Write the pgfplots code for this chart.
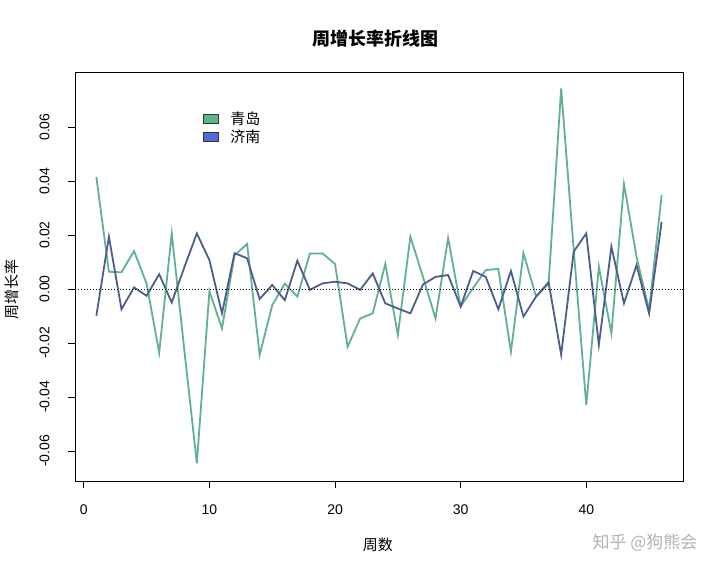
\documentclass[border=0pt]{standalone}
\usepackage{fontspec}
\setmainfont{Liberation Sans}
\newfontfamily\cjk{Noto Sans CJK SC}
\usepackage{pgfplots}
\pgfplotsset{compat=1.18}
\usepackage{pgfplotstable}
\definecolor{qdline}{RGB}{96,176,148}
\definecolor{jnline}{RGB}{78,94,140}
\definecolor{qdfill}{RGB}{92,185,135}
\definecolor{jnfill}{RGB}{86,106,215}
\pgfplotstableread{
w qd jn
1 0.0415 -0.0099
2 0.0064 0.0194
3 0.0062 -0.0075
4 0.0141 0.0006
5 0.0020 -0.0025
6 -0.0236 0.0055
7 0.0206 -0.0050
8 -0.0225 0.0080
9 -0.0645 0.0206
10 -0.0008 0.0107
11 -0.0146 -0.0090
12 0.0125 0.0133
13 0.0167 0.0114
14 -0.0244 -0.0037
15 -0.0060 0.0015
16 0.0020 -0.0041
17 -0.0028 0.0105
18 0.0132 -0.0003
19 0.0132 0.0021
20 0.0093 0.0027
21 -0.0214 0.0021
22 -0.0109 -0.0003
23 -0.0090 0.0058
24 0.0093 -0.0053
25 -0.0170 -0.0072
26 0.0194 -0.0090
27 0.0045 0.0017
28 -0.0109 0.0045
29 0.0189 0.0052
30 -0.0065 -0.0065
31 0.0005 0.0067
32 0.0070 0.0045
33 0.0075 -0.0075
34 -0.0232 0.0067
35 0.0133 -0.0102
36 -0.0028 -0.0028
37 0.0020 0.0025
38 0.0743 -0.0243
39 0.0145 0.0139
40 -0.0430 0.0206
41 0.0083 -0.0207
42 -0.0164 0.0157
43 0.0389 -0.0053
44 0.0120 0.0089
45 -0.0078 -0.0091
46 0.0348 0.0249
}\datatable
\begin{document}
\begin{tikzpicture}[x=1bp,y=1bp]
\path[use as bounding box] (0,0) rectangle (720,573);
\begin{axis}[
  at={(75bp,92bp)}, anchor=south west,
  scale only axis, width=608bp, height=409bp,
  xmin=-0.7, xmax=47.7, ymin=-0.0711, ymax=0.0804,
  xtick={0,10,20,30,40},
  ytick={-0.06,-0.04,-0.02,0,0.02,0.04,0.06},
  tick pos=left, tick align=outside,
  major tick length=7bp,
  every tick/.style={black, line width=0.8bp},
  axis line style={line width=0.8bp},
  /pgf/number format/assume math mode=true,
  xticklabel style={yshift=-13bp},
  yticklabel style={/pgf/number format/fixed, /pgf/number format/fixed zerofill, /pgf/number format/precision=2, xshift=-15bp, rotate=90, anchor=south},
  scaled y ticks=false,
  tick label style={font=\fontsize{14bp}{16bp}\selectfont},
  title={\cjk\bfseries 周增长率折线图},
  title style={at={(axis description cs:0.495,1.068)}, anchor=center, font=\fontsize{18bp}{20bp}\selectfont},
  xlabel={\cjk 周数},
  xlabel style={at={(axis description cs:0.498,-0.156)}, anchor=center, font=\fontsize{15bp}{17bp}\selectfont},
  ylabel={\cjk 周增长率},
  ylabel style={at={(axis description cs:-0.104,0.469)}, anchor=center, rotate=0, font=\fontsize{15bp}{17bp}\selectfont},
  legend style={draw=none, fill=none, at={(axis description cs:0.208,0.91)}, anchor=north west,
    font=\cjk\fontsize{15bp}{17bp}\selectfont, row sep=0bp, inner sep=1bp},
  legend cell align=left,
]
\addplot[qdline, line width=1.8bp,
  legend image code/.code={\draw[fill=qdfill, draw=black!80, line width=0.6bp] (0bp,-4.5bp) rectangle (15bp,4.5bp);}]
  table[x=w, y=qd] {\datatable};
\addlegendentry{\hspace{10bp}青岛}
\addplot[jnline, line width=1.8bp,
  legend image code/.code={\draw[fill=jnfill, draw=black!80, line width=0.6bp] (0bp,-4.5bp) rectangle (15bp,4.5bp);}]
  table[x=w, y=jn] {\datatable};
\addlegendentry{\hspace{10bp}济南}
\addplot[black, dotted, line width=1bp, forget plot] coordinates {(-0.7,0) (47.7,0)};
\end{axis}
\node[anchor=center, text=black!30, font=\cjk\fontsize{17bp}{20bp}\selectfont] at (645,30) {知乎 @狗熊会};
\end{tikzpicture}
\end{document}
